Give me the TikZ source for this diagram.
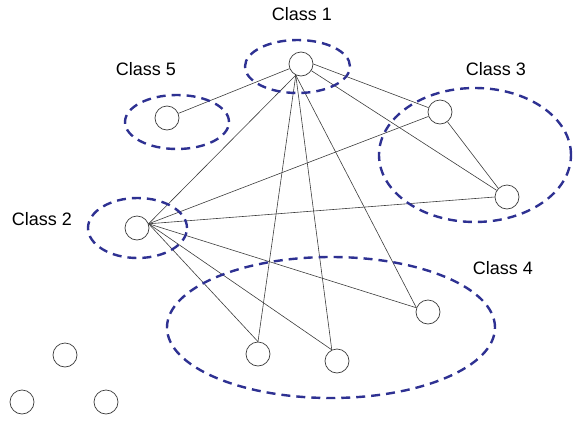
\documentclass[tikz,border=0pt]{standalone}
\usepackage{fontspec}
\setmainfont{Liberation Sans}
\usepackage{xcolor}
\definecolor{classblue}{RGB}{46,49,146}
\definecolor{edgegray}{RGB}{60,60,60}

\begin{document}
\begin{tikzpicture}[x=1pt,y=-1pt,
	pt/.style={circle,draw=edgegray,line width=0.7pt,fill=white,minimum size=24pt,inner sep=0pt},
	link/.style={edgegray,line width=0.6pt},
	cls/.style={classblue,line width=2.4pt,dash pattern=on 9pt off 6pt},
	lbl/.style={font=\fontsize{18}{21}\selectfont}]
	\useasboundingbox (0,0) rectangle (574,421);

	\node[pt] (c1) at (301,64) {};
	\node[pt] (c5) at (167,118) {};
	\node[pt] (c3a) at (440,112) {};
	\node[pt] (c3b) at (507,197) {};
	\node[pt] (c2) at (137,228) {};
	\node[pt] (c4a) at (428,312) {};
	\node[pt] (c4b) at (258,354) {};
	\node[pt] (c4c) at (337,361) {};
	\node[pt] (u1) at (65,355) {};
	\node[pt] (u2) at (22,402) {};
	\node[pt] (u3) at (106,402) {};

	\draw[link] (c1) -- (c5);
	\draw[link] (c1.east) -- (c3a);
	\draw[link] (c1) -- (c3b);
	\draw[link] (c1.245) -- (c2.20);
	\draw[link] (c1.245) -- (c4b.north);
	\draw[link] (c1.245) -- (c4c.115);
	\draw[link] (c1.245) -- (c4a.160);
	\draw[link] (c3a) -- (c3b.north west);
	\draw[link] (c3a) -- (c2.20);
	\draw[link] (c3b.west) -- (c2.20);
	\draw[link] (c2.20) -- (c4a.160);
	\draw[link] (c2.20) -- (c4b.north);
	\draw[link] (c2.20) -- (c4c.115);

	\draw[cls] (297.5,66.5) ellipse [x radius=52.5pt, y radius=26.5pt];
	\draw[cls] (177,122) ellipse [x radius=52pt, y radius=27pt];
	\draw[cls] (475,155) ellipse [x radius=96pt, y radius=67pt];
	\draw[cls] (137.5,228) ellipse [x radius=49.5pt, y radius=30pt];
	\draw[cls] (331,327.5) ellipse [x radius=164pt, y radius=70.5pt];

	\node[lbl] (l1) at (302,14) {Class 1};
	\node[lbl] (l5) at (146,69) {Class 5};
	\node[lbl] (l3) at (496,69) {Class 3};
	\node[lbl] (l2) at (42,219) {Class 2};
	\node[lbl] (l4) at (503,268) {Class 4};
\end{tikzpicture}
\end{document}
